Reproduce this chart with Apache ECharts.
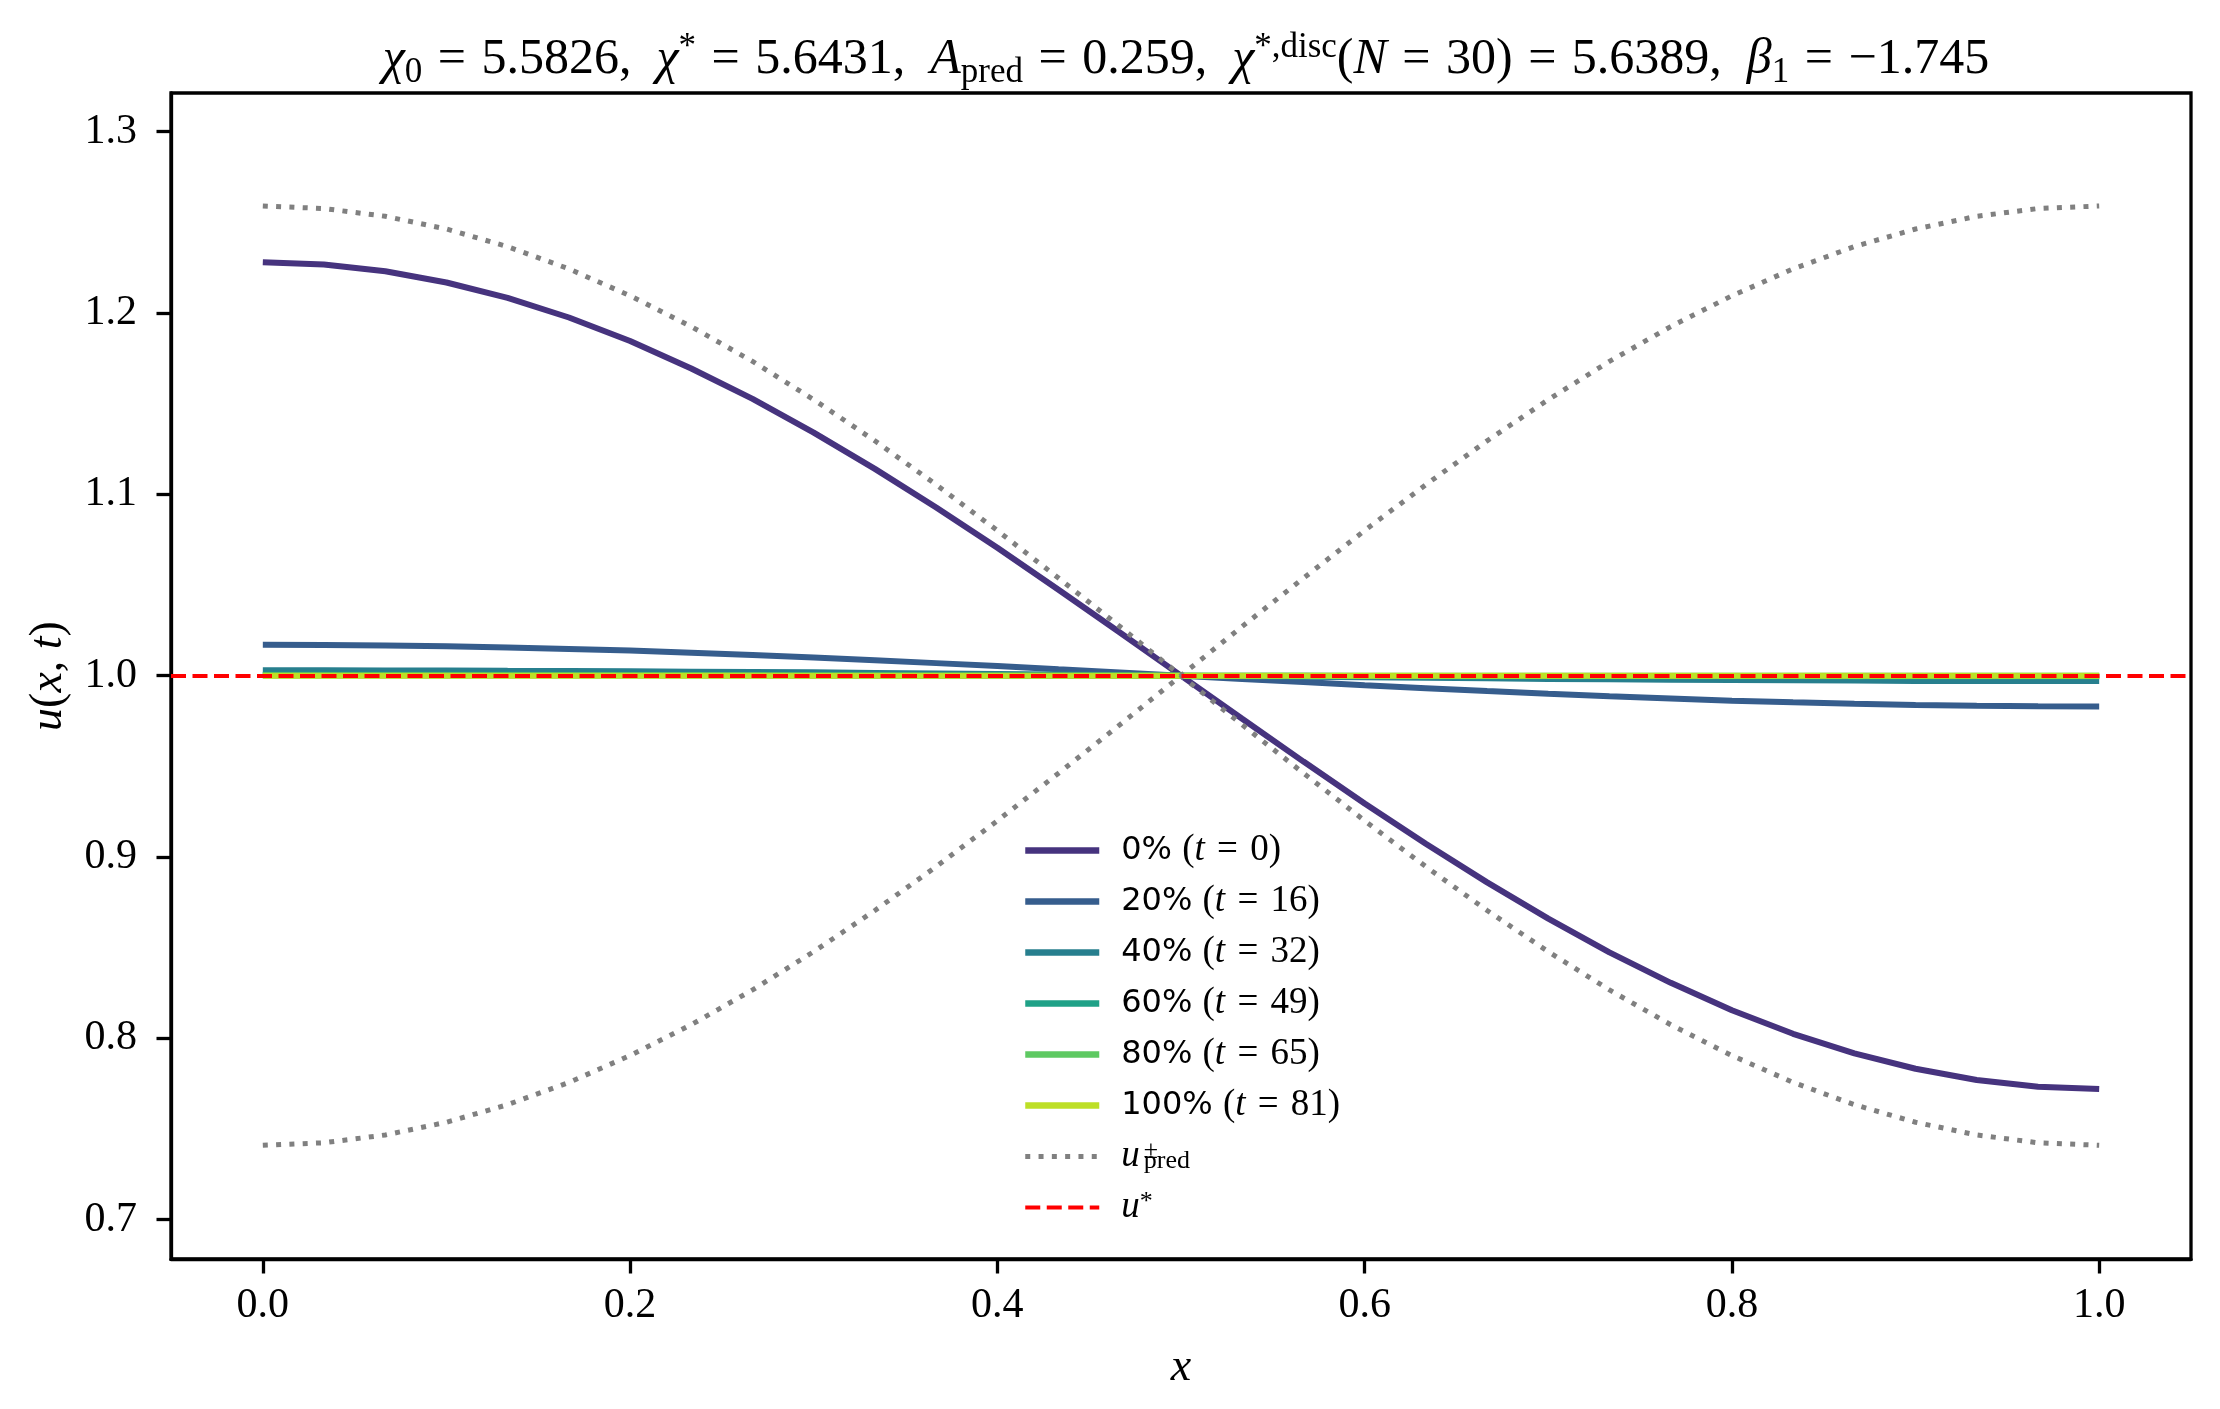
<!DOCTYPE html>
<html lang="en">
<head>
    <meta charset="UTF-8">
    <title>u(x,t) profiles</title>
    <style>
        html, body { margin: 0; padding: 0; background: #fff; }
        #chart { width: 2220px; height: 1409px; }
    </style>
</head>
<body>
    <div id="chart"></div>
    <script src="https://cdn.jsdelivr.net/npm/echarts@6/dist/echarts.min.js"></script>
    <script>
        // grid x = k/30
        var xs = [0, 0.0333, 0.0667, 0.1, 0.1333, 0.1667, 0.2, 0.2333, 0.2667, 0.3, 0.3333,
            0.3667, 0.4, 0.4333, 0.4667, 0.5, 0.5333, 0.5667, 0.6, 0.6333, 0.6667,
            0.7, 0.7333, 0.7667, 0.8, 0.8333, 0.8667, 0.9, 0.9333, 0.9667, 1.0];

        var u0 = [1.228, 1.2267, 1.2230, 1.2168, 1.2083, 1.1975, 1.1845, 1.1694, 1.1526, 1.1340, 1.1140,
            1.0927, 1.0705, 1.0474, 1.0238, 1.0, 0.9762, 0.9526, 0.9295, 0.9073, 0.8860,
            0.8660, 0.8474, 0.8306, 0.8155, 0.8025, 0.7917, 0.7832, 0.7770, 0.7733, 0.7720];
        var u20 = [1.0170, 1.0169, 1.0166, 1.0162, 1.0155, 1.0147, 1.0138, 1.0126, 1.0114, 1.0100, 1.0085,
            1.0069, 1.0053, 1.0035, 1.0018, 1.0, 0.9982, 0.9965, 0.9947, 0.9931, 0.9915,
            0.9900, 0.9886, 0.9874, 0.9862, 0.9853, 0.9845, 0.9838, 0.9834, 0.9831, 0.9830];
        var u40 = [1.0030, 1.0030, 1.0029, 1.0029, 1.0027, 1.0026, 1.0024, 1.0022, 1.0020, 1.0018, 1.0015,
            1.0012, 1.0009, 1.0006, 1.0003, 1.0, 0.9997, 0.9994, 0.9991, 0.9988, 0.9985,
            0.9982, 0.9980, 0.9978, 0.9976, 0.9974, 0.9973, 0.9971, 0.9971, 0.9970, 0.9970];
        var u60 = [1.0005, 1.0005, 1.0005, 1.0005, 1.0005, 1.0004, 1.0004, 1.0004, 1.0003, 1.0003, 1.0003,
            1.0002, 1.0002, 1.0001, 1.0001, 1.0, 0.9999, 0.9999, 0.9998, 0.9998, 0.9997,
            0.9997, 0.9997, 0.9996, 0.9996, 0.9996, 0.9995, 0.9995, 0.9995, 0.9995, 0.9995];
        var u80 = [1.0001, 1.0001, 1.0001, 1.0001, 1.0001, 1.0001, 1.0001, 1.0001, 1.0001, 1.0, 1.0,
            1.0, 1.0, 1.0, 1.0, 1.0, 1.0, 1.0, 1.0, 1.0, 1.0,
            1.0, 0.9999, 0.9999, 0.9999, 0.9999, 0.9999, 0.9999, 0.9999, 0.9999, 0.9999];
        var u100 = [1.0, 1.0, 1.0, 1.0, 1.0, 1.0, 1.0, 1.0, 1.0, 1.0, 1.0,
            1.0, 1.0, 1.0, 1.0, 1.0, 1.0, 1.0, 1.0, 1.0, 1.0,
            1.0, 1.0, 1.0, 1.0, 1.0, 1.0, 1.0, 1.0, 1.0, 1.0];
        var uPredHi = [1.259, 1.2576, 1.2533, 1.2463, 1.2366, 1.2243, 1.2095, 1.1925, 1.1733, 1.1522, 1.1295,
            1.1053, 1.0800, 1.0538, 1.0271, 1.0, 0.9729, 0.9462, 0.9200, 0.8947, 0.8705,
            0.8478, 0.8267, 0.8075, 0.7905, 0.7757, 0.7634, 0.7537, 0.7467, 0.7424, 0.741];
        var uPredLo = [0.741, 0.7424, 0.7467, 0.7537, 0.7634, 0.7757, 0.7905, 0.8075, 0.8267, 0.8478, 0.8705,
            0.8947, 0.9200, 0.9462, 0.9729, 1.0, 1.0271, 1.0538, 1.0800, 1.1053, 1.1295,
            1.1522, 1.1733, 1.1925, 1.2095, 1.2243, 1.2366, 1.2463, 1.2533, 1.2576, 1.259];
        var uStar = 1.0;

        var pcts = ['0%', '20%', '40%', '60%', '80%', '100%'];
        var times = [0, 16, 32, 49, 65, 81];
        var profiles = [u0, u20, u40, u60, u80, u100];
        var colors = ['#46337e', '#365d8d', '#277f8e', '#1fa187', '#5ec962', '#bddf26'];

        var xTicks = [0, 0.2, 0.4, 0.6, 0.8, 1.0];
        var yTicks = [0.7, 0.8, 0.9, 1.0, 1.1, 1.2, 1.3];

        var SERIF = 'Liberation Serif';
        var DOTTED = [5, 8.3];
        var DASHED = [15, 6.5];

        function pairs(ys) {
            return xs.map(function (x, i) { return [x, ys[i]]; });
        }

        var series = [];
        var legendData = [];
        profiles.forEach(function (ys, i) {
            series.push({
                name: 'p' + i,
                type: 'line',
                data: pairs(ys),
                symbol: 'none',
                color: colors[i],
                lineStyle: { width: 6, color: colors[i] }
            });
            legendData.push({ name: 'p' + i, lineStyle: { width: 6.5 }, itemStyle: { opacity: 0 } });
        });
        [uPredHi, uPredLo].forEach(function (ys) {
            series.push({
                name: 'upred',
                type: 'line',
                data: pairs(ys),
                symbol: 'none',
                color: '#808080',
                lineStyle: { width: 5, color: '#808080', type: DOTTED, cap: 'butt' }
            });
        });
        legendData.push({ name: 'upred', lineStyle: { width: 5, type: DOTTED, cap: 'butt' }, itemStyle: { opacity: 0 } });
        series.push({
            name: 'ustar',
            type: 'line',
            data: [],
            symbol: 'none',
            color: '#ff0000',
            lineStyle: { width: 4, color: '#ff0000', type: DASHED, cap: 'butt' },
            markLine: {
                silent: true,
                symbol: 'none',
                label: { show: false },
                lineStyle: { width: 4, color: '#ff0000', type: DASHED, cap: 'butt' },
                data: [{ yAxis: uStar }]
            }
        });
        legendData.push({ name: 'ustar', lineStyle: { width: 4, type: DASHED, cap: 'butt' }, itemStyle: { opacity: 0 } });

        function tx(o) {
            o.color = '#000';
            o.fontWeight = 'normal';
            o.fontFamily = o.fontFamily || SERIF;
            return o;
        }

        var titleRich = {
            m: tx({ fontSize: 50, lineHeight: 60 }),
            eq: tx({ fontSize: 50, lineHeight: 60, padding: [0, 3, 0, 3] }),
            i: tx({ fontStyle: 'italic', fontSize: 50, lineHeight: 60 }),
            sub: tx({ fontSize: 35, lineHeight: 40, verticalAlign: 'bottom' }),
            sup: tx({ fontSize: 35, lineHeight: 34, verticalAlign: 'top' })
        };

        var nameRich = {
            m: tx({ fontSize: 46, lineHeight: 50 }),
            i: tx({ fontStyle: 'italic', fontSize: 46, lineHeight: 50 })
        };

        var legendRich = {
            s: tx({ fontFamily: 'DejaVu Sans', fontSize: 32, lineHeight: 36 }),
            m: tx({ fontSize: 37, lineHeight: 36 }),
            eq: tx({ fontSize: 37, lineHeight: 36, padding: [0, 3, 0, 3] }),
            i: tx({ fontStyle: 'italic', fontSize: 37, lineHeight: 36 }),
            iu: tx({ fontStyle: 'italic', fontSize: 37, lineHeight: 36 }),
            pm: tx({ fontSize: 26, lineHeight: 10, verticalAlign: 'top', width: 0, padding: [0, 0, 0, 4] }),
            sup: tx({ fontSize: 26, lineHeight: 14, verticalAlign: 'top' }),
            sub: tx({ fontSize: 26, lineHeight: 14, verticalAlign: 'bottom' })
        };

        var chart = echarts.init(document.getElementById('chart'), null, { renderer: 'canvas' });
        chart.setOption({
            animation: false,
            backgroundColor: '#fff',
            title: {
                text: '{i|χ}{sub|0}{m| }{eq|=}{m| 5.5826,  }{i|χ}{sup|*}{m| }{eq|=}{m| 5.6431,  }' +
                    '{i|A}{sub|pred}{m| }{eq|=}{m| 0.259,  }' +
                    '{i|χ}{sup|*,disc}{m|(}{i|N}{m| }{eq|=}{m| 30) }{eq|=}{m| 5.6389,  }' +
                    '{i|β}{sub|1}{m| }{eq|=}{m| −1.745}',
                left: 1181,
                top: 25,
                textAlign: 'center',
                textStyle: { fontWeight: 'normal', rich: titleRich }
            },
            grid: {
                left: 171, right: 29, top: 93, bottom: 150,
                show: true, borderColor: '#000', borderWidth: 3.3,
                outerBoundsMode: 'none'
            },
            legend: {
                orient: 'vertical',
                left: 1022,
                top: 832,
                padding: 0,
                itemWidth: 74,
                itemHeight: 14,
                itemGap: 14,
                data: legendData,
                textStyle: { color: '#000', padding: [0, 0, 0, 17], rich: legendRich },
                formatter: function (name) {
                    if (name === 'upred') return '{iu|u}{pm|±}{sub|pred}';
                    if (name === 'ustar') return '{iu|u}{sup|*}';
                    var k = +name.slice(1);
                    return '{s|' + pcts[k] + ' }{m|(}{i|t}{m| }{eq|=}{m| ' + times[k] + ')}';
                }
            },
            xAxis: {
                type: 'value',
                min: -0.05,
                max: 1.05,
                name: '{i|x}',
                nameLocation: 'middle',
                nameGap: 84,
                nameTextStyle: { rich: nameRich },
                axisLine: { onZero: false, lineStyle: { color: '#000', width: 3.3 } },
                axisTick: { show: true, length: 14.5, lineStyle: { color: '#000', width: 3.3 }, customValues: xTicks },
                axisLabel: {
                    customValues: xTicks, margin: 26, color: '#000', fontFamily: SERIF, fontSize: 42,
                    formatter: function (v) { return v.toFixed(1); }
                },
                splitLine: { show: false }
            },
            yAxis: {
                type: 'value',
                min: 0.6783,
                max: 1.3213,
                name: '{i|u}{m|(}{i|x}{m|, }{i|t}{m|)}',
                nameLocation: 'middle',
                nameGap: 97,
                nameRotate: 90,
                nameTextStyle: { rich: nameRich },
                axisLine: { onZero: false, lineStyle: { color: '#000', width: 3.3 } },
                axisTick: { show: true, length: 14.5, lineStyle: { color: '#000', width: 3.3 }, customValues: yTicks },
                axisLabel: {
                    customValues: yTicks, margin: 34, color: '#000', fontFamily: SERIF, fontSize: 42,
                    formatter: function (v) { return v.toFixed(1); }
                },
                splitLine: { show: false }
            },
            series: series
        });
    </script>
</body>
</html>
